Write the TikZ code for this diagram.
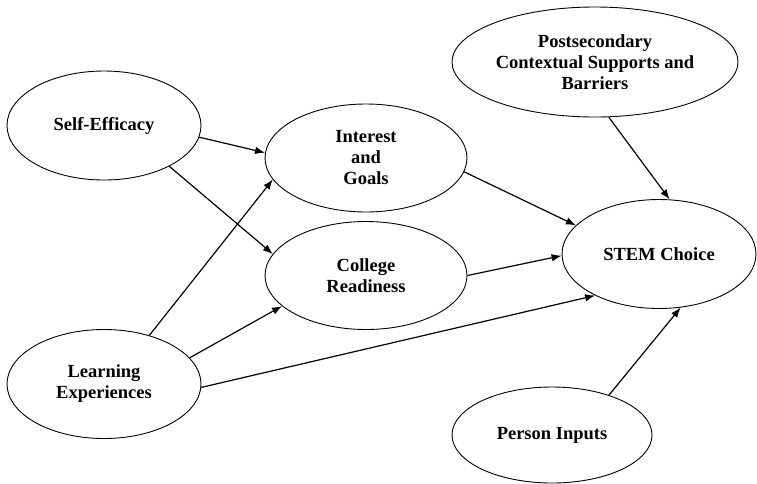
\documentclass[tikz,border=0pt]{standalone}
\usepackage{fontspec}
\setmainfont{Liberation Serif}
\usetikzlibrary{shapes.geometric,arrows.meta}

\begin{document}
\begin{tikzpicture}[
        x=1pt, y=-1pt,
        factor/.style={
            ellipse,
            draw,
            line width=0.9pt,
            inner sep=0pt,
            align=center,
            font=\bfseries\fontsize{18.5}{21}\selectfont
        },
        small/.style={
            factor,
            minimum width=194pt,
            minimum height=109pt
        },
        mid/.style={
            factor,
            minimum width=202pt,
            minimum height=108pt
        },
        arrow/.style={
            ->,
            line width=1.2pt,
            >={Latex[length=10pt,width=7.5pt]}
        }
    ]
    \useasboundingbox (0,0) rectangle (757,483);
    % Left column
    \node[small] (selfeff) at (104,125.5) {Self-Efficacy};
    \node[small] (learn) at (104,384) {Learning\\Experiences};
    % Middle column
    \node[mid] (interest) at (366,158) {Interest\\and\\Goals};
    \node[mid] (ready) at (366,275.5) {College\\Readiness};
    % Right column
    \node[factor, minimum width=286pt, minimum height=110pt] (context) at (595,62)
        {Postsecondary\\Contextual Supports and\\Barriers};
    \node[small] (stem) at (659,254) {STEM Choice};
    \node[factor, minimum width=200pt, minimum height=96pt] (person) at (552,435)
        {Person Inputs};
    % Paths into interest and readiness
    \draw[arrow] (selfeff.-7) -- (interest.177);
    \draw[arrow] (selfeff.-32) -- (ready.167);
    \draw[arrow] (learn.47) -- (interest.193);
    \draw[arrow] (learn.17) -- (ready.200);
    % Paths into STEM choice
    \draw[arrow] (learn.-2) -- (stem.213);
    \draw[arrow] (interest.-8) -- (stem.161);
    \draw[arrow] (ready.0) -- (stem.181);
    \draw[arrow] (context.-76) -- (stem.79);
    \draw[arrow] (person.35) -- (stem.-68);
\end{tikzpicture}
\end{document}
